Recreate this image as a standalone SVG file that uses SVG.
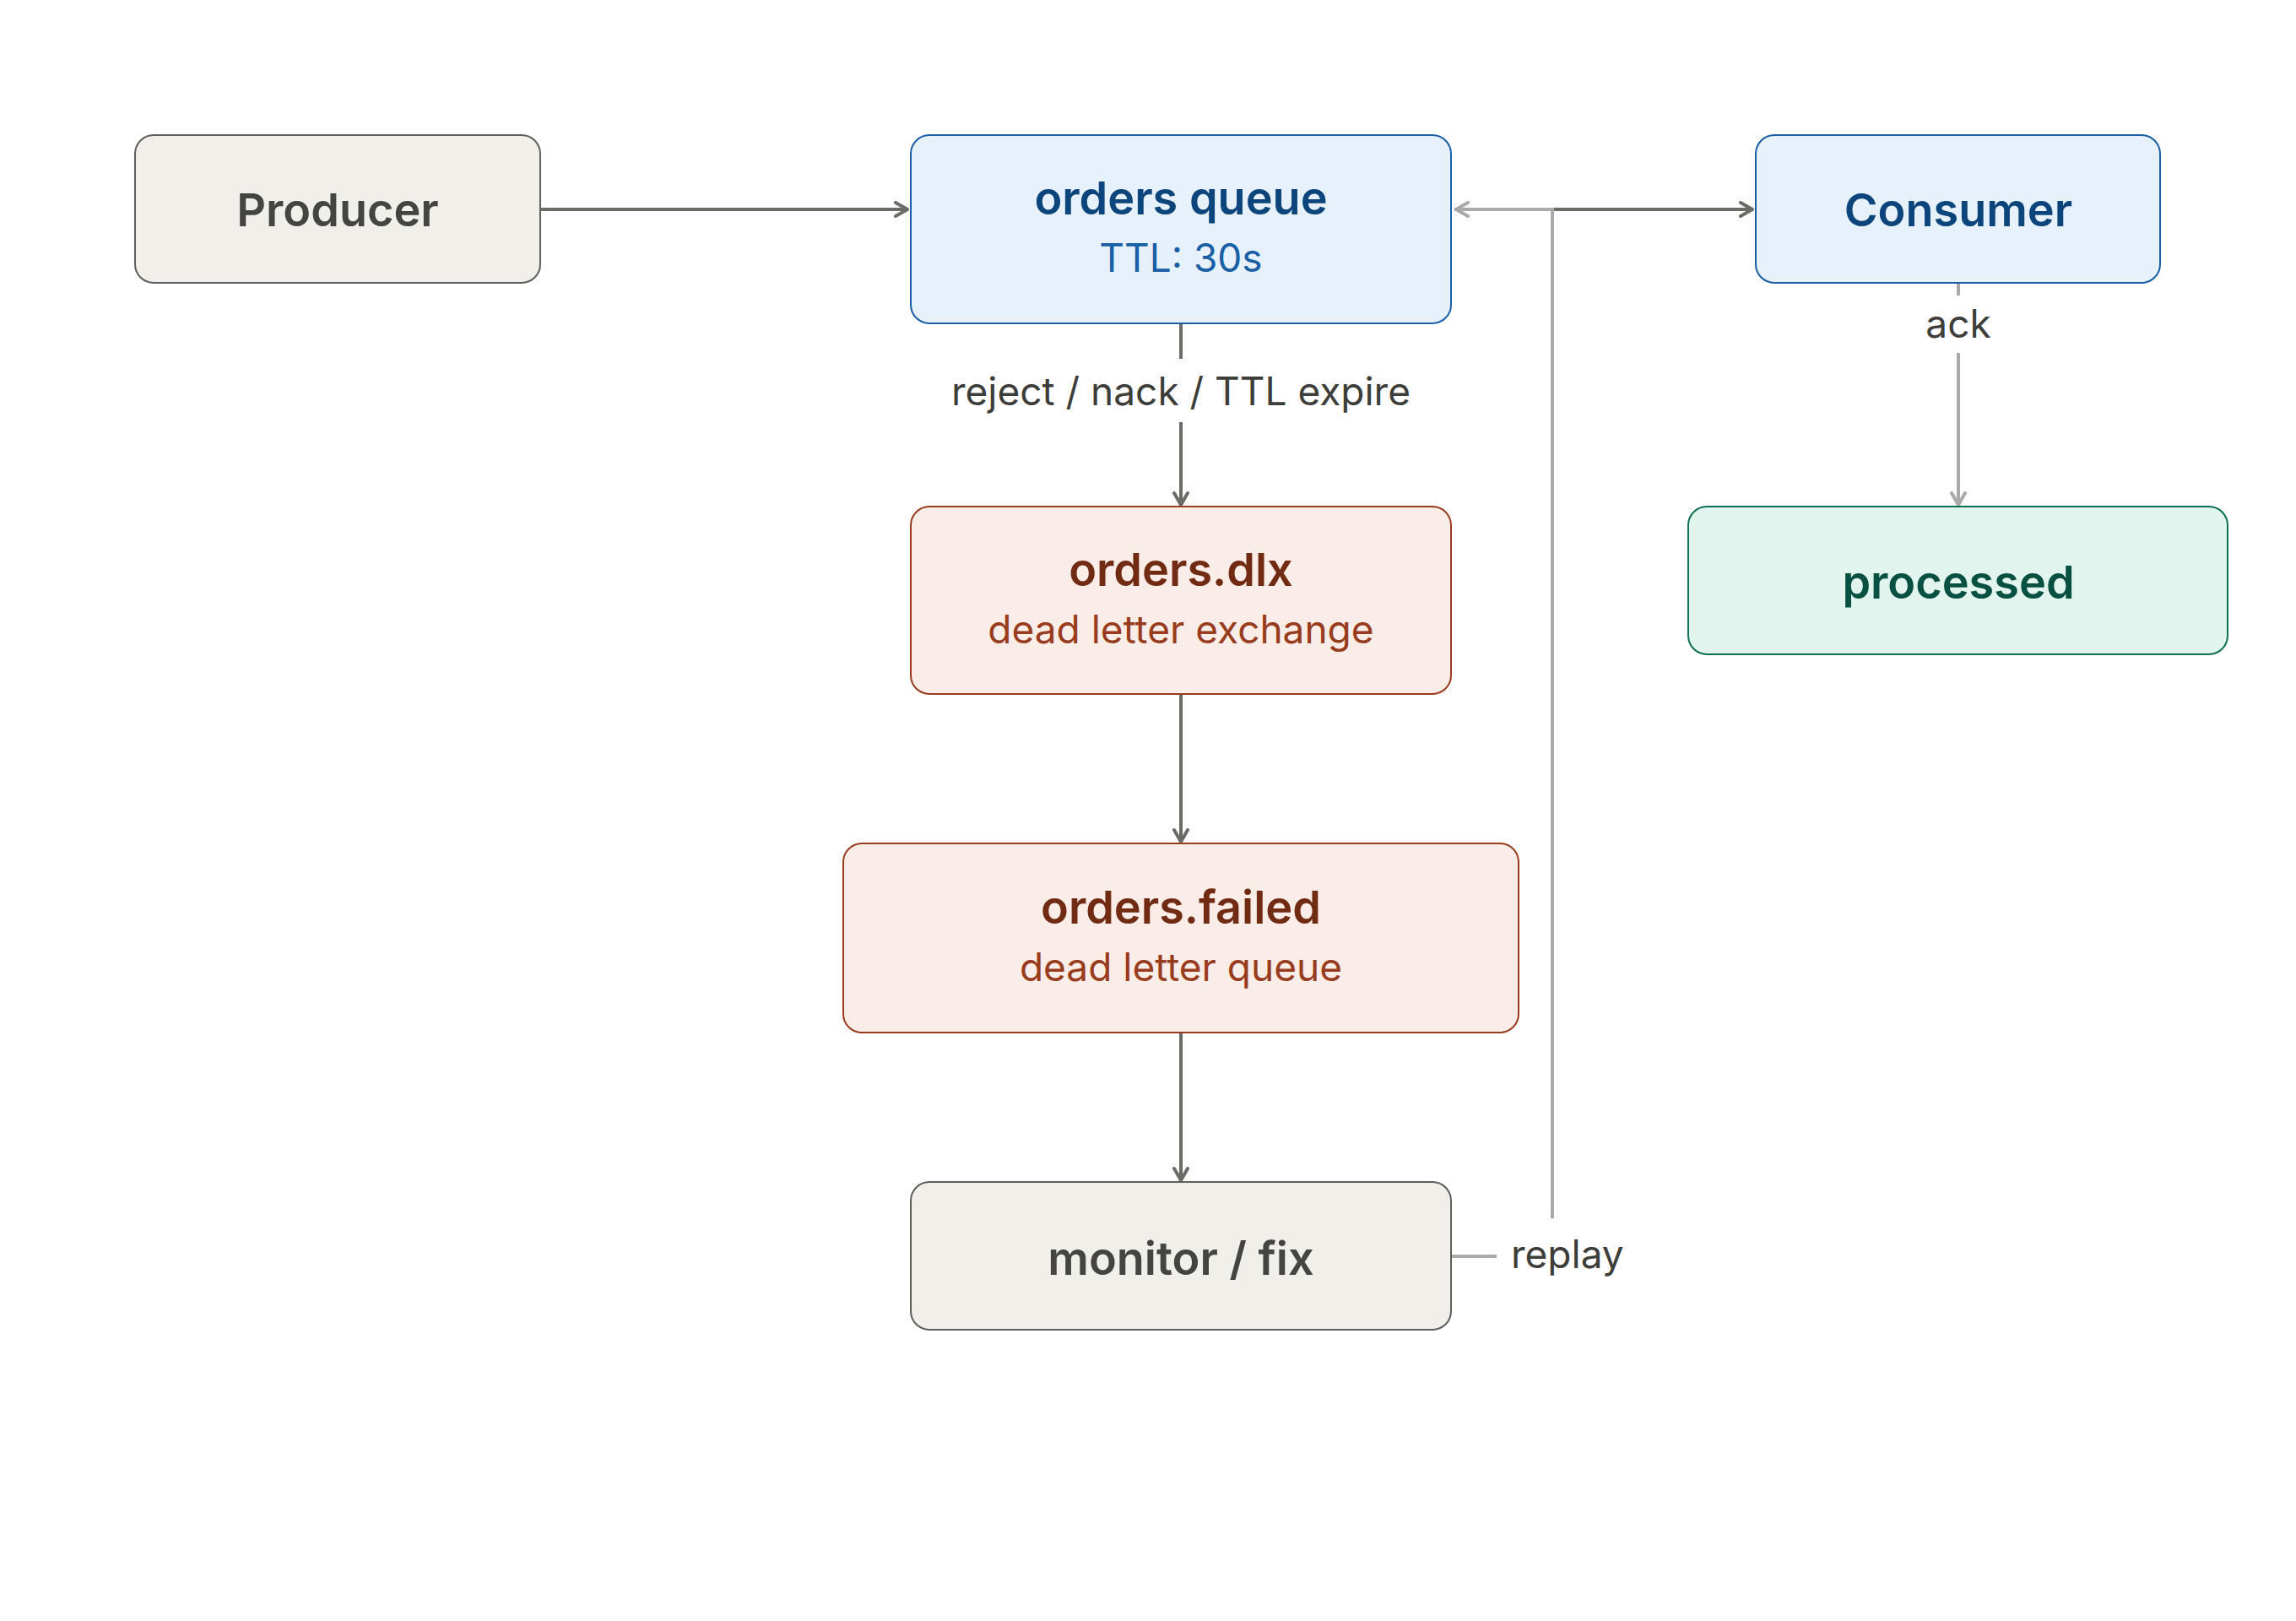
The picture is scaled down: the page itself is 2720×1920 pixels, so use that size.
<svg xmlns="http://www.w3.org/2000/svg" width="2720" height="1920" viewBox="0 0 2720 1920">
<style>
.t{font-family:Inter,"Open Sans","Liberation Sans",sans-serif;font-size:54px;font-weight:600;text-anchor:middle;dominant-baseline:central}
.s{font-family:Inter,"Open Sans","Liberation Sans",sans-serif;font-size:46px;text-anchor:middle;dominant-baseline:central}
.l{font-family:Inter,"Open Sans","Liberation Sans",sans-serif;font-size:46px;fill:#3d3d3a;dominant-baseline:central}
.g rect{fill:#f1efe9;stroke:#5f5e5a}.g text{fill:#444441}
.b rect{fill:#e6f1fb;stroke:#185fa5}.b .t{fill:#0c447c}.b .s{fill:#185fa5}
.r rect{fill:#faece7;stroke:#993c1d}.r .t{fill:#712b13}.r .s{fill:#993c1d}
.n rect{fill:#e1f5ee;stroke:#0f6e56}.n .t{fill:#085041}
rect{stroke-width:2}
.d{stroke:#6b6b68;stroke-width:4;fill:none}
.p{stroke:#aaaaaa;stroke-width:4;fill:none}
</style>
<defs>
<marker id="ad" viewBox="0 0 20 20" refX="17" refY="10" markerWidth="20" markerHeight="20" markerUnits="userSpaceOnUse" orient="auto"><path d="M3,2 L17,10 L3,18" fill="none" stroke="#6b6b68" stroke-width="4" stroke-linecap="round" stroke-linejoin="round"/></marker>
<marker id="ap" viewBox="0 0 20 20" refX="17" refY="10" markerWidth="20" markerHeight="20" markerUnits="userSpaceOnUse" orient="auto"><path d="M3,2 L17,10 L3,18" fill="none" stroke="#aaaaaa" stroke-width="4" stroke-linecap="round" stroke-linejoin="round"/></marker>
</defs>
<rect width="2720" height="1920" fill="#fff"/>
<g id="connectors">
<path class="d" d="M640,248 H1075" marker-end="url(#ad)"/>
<path class="d" d="M1723,248 H2076" marker-end="url(#ad)"/>
<path class="p" d="M1719,1488 H1773"/>
<path class="p" d="M1839,1443 V248 H1725" marker-end="url(#ap)"/>
<path class="p" d="M2320,335 V350 M2320,418 V598" marker-end="url(#ap)"/>
<path class="d" d="M1399,383 V425 M1399,500 V598" marker-end="url(#ad)"/>
<path class="d" d="M1399,822 V997" marker-end="url(#ad)"/>
<path class="d" d="M1399,1223 V1398" marker-end="url(#ad)"/>
<text class="l" x="1399" y="463" text-anchor="middle">reject / nack / TTL expire</text>
<text class="l" x="2320" y="383" text-anchor="middle">ack</text>
<text class="l" x="1790" y="1485">replay</text>
</g>
<g id="producer" class="g"><rect x="160" y="160" width="480" height="175" rx="22"/><text class="t" x="400" y="248">Producer</text></g>
<g id="orders-queue" class="b"><rect x="1079" y="160" width="640" height="223" rx="22"/><text class="t" x="1399" y="234">orders queue</text><text class="s" x="1399" y="305">TTL: 30s</text></g>
<g id="consumer" class="b"><rect x="2080" y="160" width="479" height="175" rx="22"/><text class="t" x="2320" y="248">Consumer</text></g>
<g id="processed" class="n"><rect x="2000" y="600" width="639" height="175" rx="22"/><text class="t" x="2320" y="689">processed</text></g>
<g id="orders-dlx" class="r"><rect x="1079" y="600" width="640" height="222" rx="22"/><text class="t" x="1399" y="674">orders.dlx</text><text class="s" x="1399" y="745">dead letter exchange</text></g>
<g id="orders-failed" class="r"><rect x="999" y="999" width="800" height="224" rx="22"/><text class="t" x="1399" y="1074">orders.failed</text><text class="s" x="1399" y="1145">dead letter queue</text></g>
<g id="monitor" class="g"><rect x="1079" y="1400" width="640" height="175" rx="22"/><text class="t" x="1399" y="1490">monitor / fix</text></g>
</svg>
